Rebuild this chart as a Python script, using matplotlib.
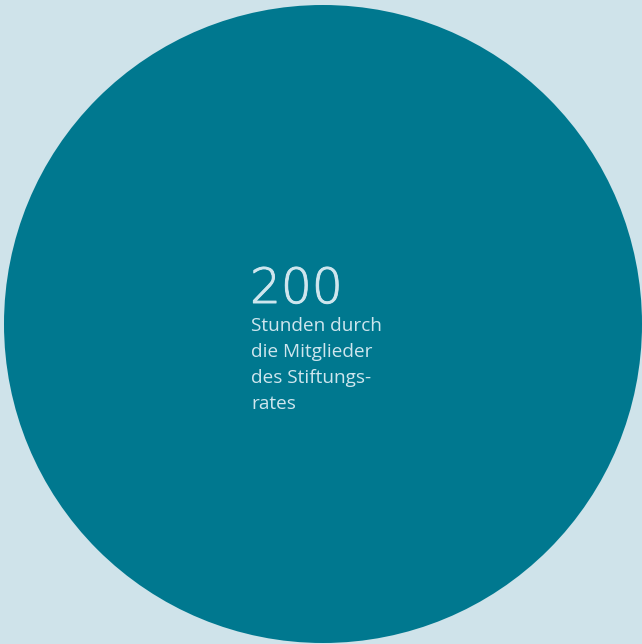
import matplotlib.pyplot as plt
import matplotlib.patheffects as pe
from matplotlib.patches import Circle

# values
headline = "200"
caption_lines = ["Stunden durch", "die Mitglieder", "des Stiftungs-", "rates"]

bg_color = "#cfe3ea"
circle_color = "#00788f"
text_color = "#cfe6ee"

fig = plt.figure(figsize=(6.42, 6.44), dpi=100)
fig.patch.set_facecolor(bg_color)
ax = fig.add_axes([0, 0, 1, 1])
ax.set_xlim(0, 642)
ax.set_ylim(644, 0)
ax.set_aspect("equal")
ax.axis("off")

# big circle
ax.add_patch(Circle((323, 324), 319, color=circle_color, lw=0))

# number (extra-light face, slightly thickened)
ax.text(250, 303, headline, fontsize=35, color=text_color,
        family="DejaVu Sans", fontweight=200, va="baseline", ha="left",
        path_effects=[pe.withStroke(linewidth=0.7, foreground=text_color)])

# caption, one line at a time (26 px line step)
for i, line in enumerate(caption_lines):
    ax.text(251, 331 + 26 * i, line, fontsize=13.7, color=text_color,
            family="Open Sans", va="baseline", ha="left")

fig.savefig("out.png", dpi=100, facecolor=bg_color)
